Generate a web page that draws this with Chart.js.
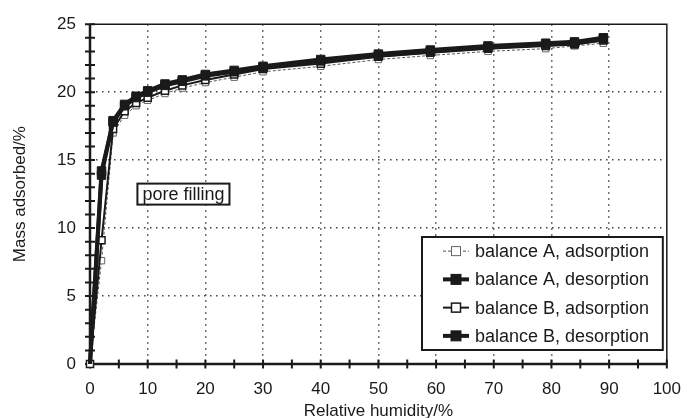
<!DOCTYPE html>
<html>
<head>
<meta charset="utf-8">
<script src="https://cdn.jsdelivr.net/npm/chart.js@4/dist/chart.umd.min.js"></script>
<style>
  html, body { margin: 0; padding: 0; background: #fff; }
  #wrap { width: 696px; height: 418px; }
</style>
</head>
<body>
<div id="wrap"><canvas id="c" width="696" height="418"></canvas></div>
<script>
// Relative humidity steps (%)
const humidity = [0, 2, 4, 6, 8, 10, 13, 16, 20, 25, 30, 40, 50, 59, 69, 79, 84, 89];

// Mass adsorbed (%) for each balance and branch
const balanceA_adsorption = [0, 7.6, 17.0, 18.3, 19.0, 19.4, 19.9, 20.3, 20.7, 21.1, 21.5, 21.9, 22.4, 22.7, 23.0, 23.2, 23.4, 23.6];
const balanceA_desorption = [0, 13.9, 17.9, 19.1, 19.7, 20.1, 20.6, 20.9, 21.3, 21.6, 21.9, 22.4, 22.8, 23.1, 23.4, 23.6, 23.7, 24.0];
const balanceB_adsorption = [0, 9.1, 17.3, 18.6, 19.2, 19.6, 20.1, 20.5, 20.9, 21.3, 21.7, 22.1, 22.6, 22.9, 23.2, 23.4, 23.5, 23.8];
const balanceB_desorption = [0, 14.2, 17.8, 19.0, 19.6, 20.0, 20.5, 20.8, 21.2, 21.5, 21.8, 22.3, 22.7, 23.0, 23.3, 23.5, 23.6, 23.9];

const seriesLabels = [
  'balance A, adsorption',
  'balance A, desorption',
  'balance B, adsorption',
  'balance B, desorption'
];

const xTickStep = 10, yTickStep = 5;
const annotationText = 'pore filling';
const annotationAt = { x: 16.2, y: 12.5 };

const FONT = '"Liberation Sans", Arial, Helvetica, sans-serif';
const INK = '#1a1a1a';

function pts(ys) { return humidity.map((x, i) => ({ x, y: ys[i] })); }

// hide the marker at the origin for the desorption branches
const noOriginMarker = (r) => (ctx) => ctx.dataIndex === 0 ? 0 : r;

const datasets = [
  {
    label: seriesLabels[0], data: pts(balanceA_adsorption), order: 3,
    borderColor: '#555', borderWidth: 1, borderDash: [3, 2],
    pointStyle: 'rect', pointRadius: 4.5, pointBorderWidth: 1,
    pointBackgroundColor: '#fff', pointBorderColor: '#666'
  },
  {
    label: seriesLabels[1], data: pts(balanceA_desorption), order: 1,
    borderColor: INK, borderWidth: 4,
    pointStyle: 'rect', pointRadius: noOriginMarker(6), pointBorderWidth: 1,
    pointBackgroundColor: INK, pointBorderColor: INK
  },
  {
    label: seriesLabels[2], data: pts(balanceB_adsorption), order: 2,
    borderColor: INK, borderWidth: 2,
    pointStyle: 'rect', pointRadius: 5, pointBorderWidth: 1.5,
    pointBackgroundColor: '#fff', pointBorderColor: INK
  },
  {
    label: seriesLabels[3], data: pts(balanceB_desorption), order: 0,
    borderColor: INK, borderWidth: 4,
    pointStyle: 'rect', pointRadius: noOriginMarker(6), pointBorderWidth: 1,
    pointBackgroundColor: INK, pointBorderColor: INK
  }
];
datasets.forEach(d => { d.tension = 0; d.clip = false; d.fill = false; });

// axes, frame, ticks, annotation box and in-plot legend
const decorations = {
  id: 'decorations',
  beforeDatasetsDraw(chart) {
    const { ctx, chartArea: a, scales: { x, y } } = chart;
    ctx.save();
    ctx.strokeStyle = INK;
    // top and right frame
    ctx.lineWidth = 1.5;
    ctx.beginPath();
    ctx.moveTo(a.left, a.top); ctx.lineTo(a.right, a.top); ctx.lineTo(a.right, a.bottom);
    ctx.stroke();
    // left and bottom axes
    ctx.lineWidth = 2.5;
    ctx.beginPath();
    ctx.moveTo(a.left, a.top); ctx.lineTo(a.left, a.bottom); ctx.lineTo(a.right, a.bottom);
    ctx.stroke();
    // ticks crossing the axes
    ctx.lineWidth = 2;
    ctx.beginPath();
    for (let v = 0; v <= 100; v += 5) {
      const px = x.getPixelForValue(v);
      ctx.moveTo(px, a.bottom - 4.5); ctx.lineTo(px, a.bottom + 4.5);
    }
    for (let v = 0; v <= 25; v += 1) {
      const py = y.getPixelForValue(v);
      ctx.moveTo(a.left - 5, py); ctx.lineTo(a.left + 5, py);
    }
    ctx.stroke();
    ctx.restore();
  },
  afterDatasetsDraw(chart) {
    const { ctx, chartArea: a, scales: { x, y } } = chart;
    ctx.save();
    // annotation
    ctx.font = '18px ' + FONT;
    ctx.textBaseline = 'middle';
    ctx.textAlign = 'center';
    const cx = x.getPixelForValue(annotationAt.x);
    const cy = y.getPixelForValue(annotationAt.y);
    const tw = ctx.measureText(annotationText).width;
    const bw = tw + 10, bh = 21;
    ctx.fillStyle = '#fff';
    ctx.fillRect(cx - bw / 2, cy - bh / 2, bw, bh);
    ctx.strokeStyle = INK; ctx.lineWidth = 2;
    ctx.strokeRect(cx - bw / 2, cy - bh / 2, bw, bh);
    ctx.fillStyle = INK;
    ctx.fillText(annotationText, cx, cy + 1);

    // legend box
    const L = 422, R = a.right - 4, T = 237, B = a.bottom - 14;
    ctx.fillStyle = '#fff';
    ctx.fillRect(L, T, R - L, B - T);
    ctx.lineWidth = 2; ctx.strokeStyle = INK;
    ctx.strokeRect(L, T, R - L, B - T);
    const rowH = (B - T) / 4;
    ctx.textAlign = 'left';
    chart.data.datasets.forEach((d, i) => {
      const ry = T + rowH * (i + 0.5);
      const x0 = L + 21, x1 = L + 47, mx = (x0 + x1) / 2;
      ctx.save();
      ctx.strokeStyle = d.borderColor;
      ctx.lineWidth = d.borderWidth;
      ctx.setLineDash(d.borderDash || []);
      ctx.beginPath(); ctx.moveTo(x0, ry); ctx.lineTo(x1, ry); ctx.stroke();
      ctx.setLineDash([]);
      const r = i % 2 === 1 ? 5 : 4.5;
      ctx.fillStyle = d.pointBackgroundColor;
      ctx.fillRect(mx - r, ry - r, 2 * r, 2 * r);
      ctx.lineWidth = d.pointBorderWidth;
      ctx.strokeStyle = d.pointBorderColor;
      ctx.strokeRect(mx - r, ry - r, 2 * r, 2 * r);
      ctx.restore();
      ctx.fillStyle = INK;
      ctx.fillText(d.label, L + 53, ry + 1);
    });
    ctx.restore();
  }
};

const gridColor = (edgeA, edgeB) => (c) =>
  (c.tick && (c.tick.value === edgeA || c.tick.value === edgeB)) ? 'rgba(0,0,0,0)' : '#444';

new Chart(document.getElementById('c'), {
  type: 'line',
  data: { datasets },
  plugins: [decorations],
  options: {
    responsive: false,
    animation: false,
    layout: { padding: { top: 20, right: 16, left: 0, bottom: 0 } },
    plugins: { legend: { display: false }, tooltip: { enabled: false } },
    scales: {
      x: {
        type: 'linear', min: 0, max: 100,
        afterFit(s) { s.height = 54; },
        ticks: { stepSize: xTickStep, padding: 15, color: INK, font: { family: FONT, size: 17 } },
        grid: { drawTicks: false, lineWidth: 1.5, color: gridColor(0, 100) },
        border: { display: false, dash: [1.5, 4.5] },
        title: {
          display: true, text: 'Relative humidity/%', color: INK,
          font: { family: FONT, size: 17, lineHeight: 0.8 }, padding: { top: 0, bottom: 0 }
        }
      },
      y: {
        type: 'linear', min: 0, max: 25,
        afterFit(s) { s.width = 90; },
        ticks: { stepSize: yTickStep, padding: 14, color: INK, font: { family: FONT, size: 17 } },
        grid: { drawTicks: false, lineWidth: 1.5, color: gridColor(0, 25) },
        border: { display: false, dash: [1.5, 4.5] },
        title: {
          display: true, text: 'Mass adsorbed/%', color: INK,
          font: { family: FONT, size: 17, lineHeight: 1.2 }, padding: { top: 10, bottom: 0 }
        }
      }
    }
  }
});
</script>
</body>
</html>
